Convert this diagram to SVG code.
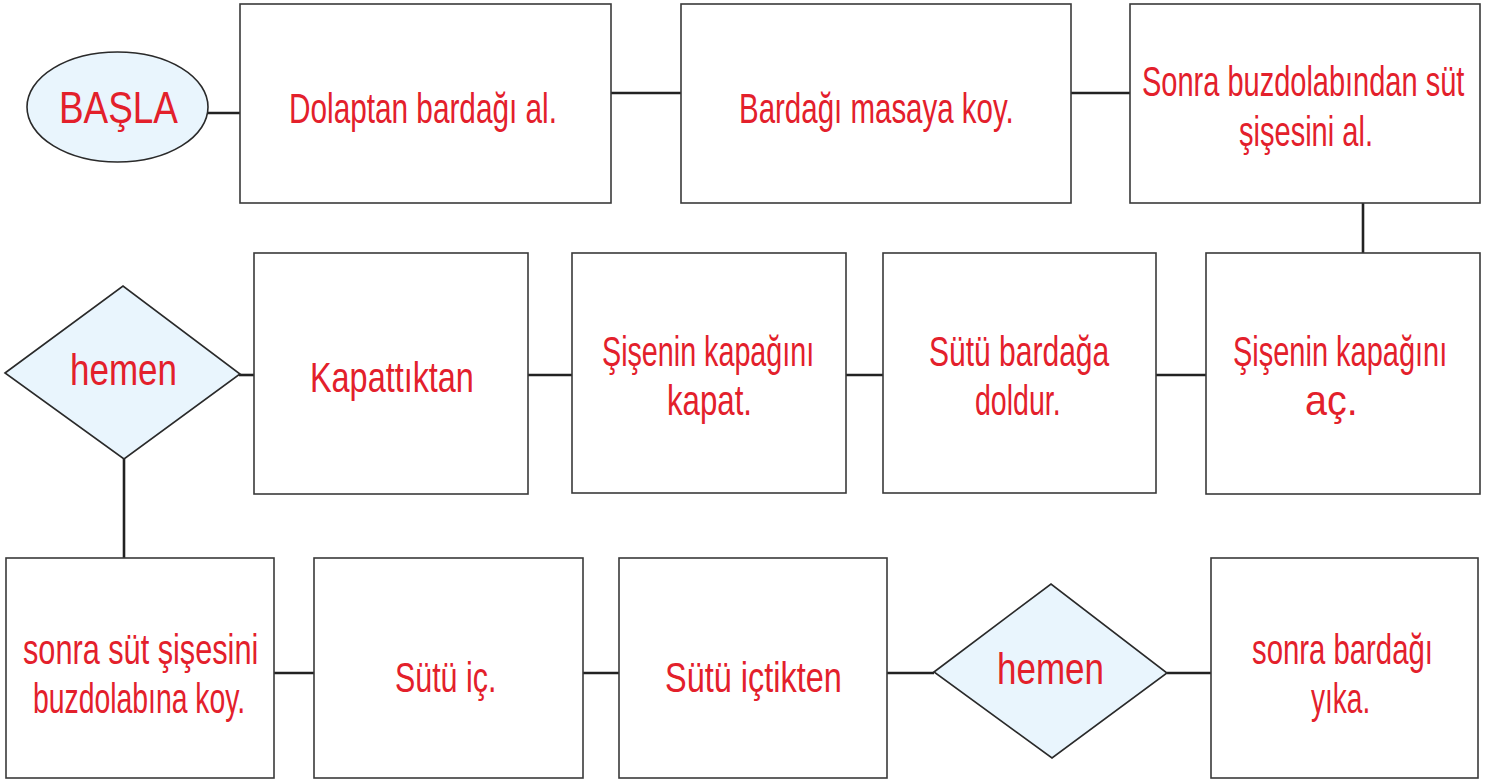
<svg xmlns="http://www.w3.org/2000/svg" width="1492" height="780" viewBox="0 0 1492 780">
<style>
.box{fill:#ffffff;stroke:#3a3a3a;stroke-width:1.6}
.term{fill:#e9f5fd;stroke:#2a2a2a;stroke-width:1.6}
.conn{stroke:#222222;stroke-width:2.6;fill:none}
.t{font-family:"Liberation Sans",Arial,sans-serif;font-size:43px;fill:#e3202b}
.h{font-family:"Liberation Sans",Arial,sans-serif;font-size:44px;fill:#e3202b}
</style>
<rect width="1492" height="780" fill="#ffffff"/>
<g id="connectors">
<line class="conn" x1="207" y1="113" x2="241" y2="113"/>
<line class="conn" x1="611" y1="93" x2="681" y2="93"/>
<line class="conn" x1="1071" y1="93" x2="1130" y2="93"/>
<line class="conn" x1="1363" y1="203" x2="1363" y2="253"/>
<line class="conn" x1="1156" y1="375" x2="1206" y2="375"/>
<line class="conn" x1="846" y1="375" x2="883" y2="375"/>
<line class="conn" x1="528" y1="375" x2="572" y2="375"/>
<line class="conn" x1="239" y1="375" x2="254" y2="375"/>
<line class="conn" x1="124" y1="459" x2="124" y2="558"/>
<line class="conn" x1="274" y1="673" x2="314" y2="673"/>
<line class="conn" x1="583" y1="673" x2="619" y2="673"/>
<line class="conn" x1="887" y1="673" x2="934" y2="673"/>
<line class="conn" x1="1167" y1="673" x2="1211" y2="673"/>
</g>
<g id="basla">
<ellipse class="term" cx="117.5" cy="107" rx="90.5" ry="55"/>
<text class="h" x="59" y="123" font-size="46" textLength="119" lengthAdjust="spacingAndGlyphs">BAŞLA</text>
</g>
<g id="n1">
<rect class="box" x="240" y="4" width="371" height="199"/>
<text class="t" transform="translate(289,123) scale(0.68,1)" textLength="394" lengthAdjust="spacingAndGlyphs">Dolaptan bardağı al.</text>
</g>
<g id="n2">
<rect class="box" x="681" y="4" width="390" height="199"/>
<text class="t" transform="translate(739,123) scale(0.68,1)" textLength="404" lengthAdjust="spacingAndGlyphs">Bardağı masaya koy.</text>
</g>
<g id="n3">
<rect class="box" x="1130" y="4" width="350" height="199"/>
<text class="t" transform="translate(1142,96) scale(0.68,1)" textLength="474" lengthAdjust="spacingAndGlyphs">Sonra buzdolabından süt</text>
<text class="t" transform="translate(1239,146) scale(0.68,1)" textLength="197" lengthAdjust="spacingAndGlyphs">şişesini al.</text>
</g>
<g id="n4">
<rect class="box" x="1206" y="253" width="274" height="241"/>
<text class="t" transform="translate(1233,366) scale(0.68,1)" textLength="315" lengthAdjust="spacingAndGlyphs">Şişenin kapağını</text>
<text class="t" transform="translate(1305,415) scale(0.92,1)">aç.</text>
</g>
<g id="n5">
<rect class="box" x="883" y="253" width="273" height="240"/>
<text class="t" transform="translate(929,366) scale(0.68,1)" textLength="265" lengthAdjust="spacingAndGlyphs">Sütü bardağa</text>
<text class="t" transform="translate(975,415) scale(0.68,1)" textLength="126" lengthAdjust="spacingAndGlyphs">doldur.</text>
</g>
<g id="n6">
<rect class="box" x="572" y="253" width="274" height="240"/>
<text class="t" transform="translate(602,366) scale(0.68,1)" textLength="312" lengthAdjust="spacingAndGlyphs">Şişenin kapağını</text>
<text class="t" transform="translate(667,415) scale(0.68,1)" textLength="125" lengthAdjust="spacingAndGlyphs">kapat.</text>
</g>
<g id="n7">
<rect class="box" x="254" y="253" width="274" height="241"/>
<text class="t" transform="translate(310,392) scale(0.68,1)" textLength="241" lengthAdjust="spacingAndGlyphs">Kapattıktan</text>
</g>
<g id="d1">
<polygon class="term" points="5,373 123,286 240,374 124,459"/>
<text class="h" x="70" y="385" textLength="107" lengthAdjust="spacingAndGlyphs">hemen</text>
</g>
<g id="n8">
<rect class="box" x="6" y="558" width="268" height="220"/>
<text class="t" transform="translate(23,664) scale(0.68,1)" textLength="346" lengthAdjust="spacingAndGlyphs">sonra süt şişesini</text>
<text class="t" transform="translate(33,713) scale(0.68,1)" textLength="312" lengthAdjust="spacingAndGlyphs">buzdolabına koy.</text>
</g>
<g id="n9">
<rect class="box" x="314" y="558" width="269" height="220"/>
<text class="t" transform="translate(395,692) scale(0.68,1)" textLength="149" lengthAdjust="spacingAndGlyphs">Sütü iç.</text>
</g>
<g id="n10">
<rect class="box" x="619" y="558" width="268" height="220"/>
<text class="t" transform="translate(665,692) scale(0.68,1)" textLength="260" lengthAdjust="spacingAndGlyphs">Sütü içtikten</text>
</g>
<g id="d2">
<polygon class="term" points="934,672 1051,584 1167,673 1052,758"/>
<text class="h" x="997" y="684" textLength="107" lengthAdjust="spacingAndGlyphs">hemen</text>
</g>
<g id="n11">
<rect class="box" x="1211" y="558" width="267" height="220"/>
<text class="t" transform="translate(1252,664) scale(0.68,1)" textLength="266" lengthAdjust="spacingAndGlyphs">sonra bardağı</text>
<text class="t" transform="translate(1311,713) scale(0.68,1)" textLength="87" lengthAdjust="spacingAndGlyphs">yıka.</text>
</g>
</svg>
